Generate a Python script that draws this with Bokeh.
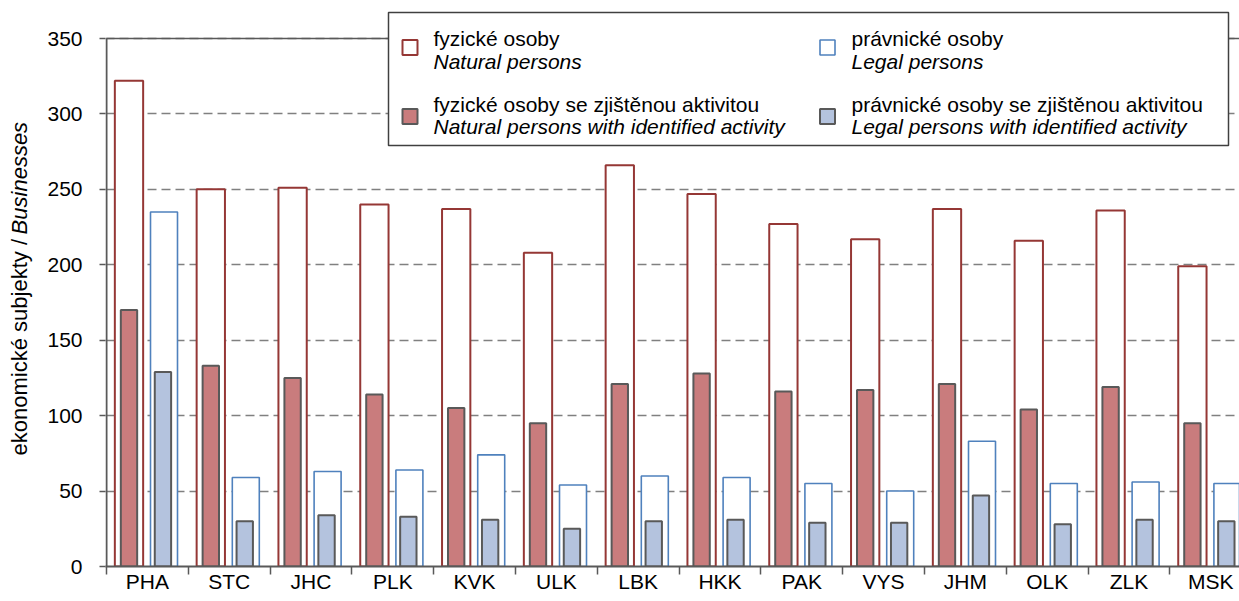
import math
from bokeh.plotting import figure
from bokeh.layouts import row
from bokeh.models import FixedTicker, Range1d, ColumnDataSource
from bokeh.core.properties import value
from bokeh.embed import file_html
from bokeh.resources import INLINE

# ---------------- data ----------------
regions = ["PHA", "STC", "JHC", "PLK", "KVK", "ULK", "LBK", "HKK", "PAK", "VYS", "JHM", "OLK", "ZLK", "MSK"]
natural = [322, 250, 251, 240, 237, 208, 266, 247, 227, 217, 237, 216, 236, 199]
natural_active = [170, 133, 125, 114, 105, 95, 121, 128, 116, 117, 121, 104, 119, 95]
legal = [235, 59, 63, 64, 74, 54, 60, 59, 55, 50, 83, 55, 56, 55]
legal_active = [129, 30, 34, 33, 31, 25, 30, 31, 29, 29, 47, 28, 31, 30]
y_ticks = [0, 50, 100, 150, 200, 250, 300, 350]

leg_natural = ("fyzické osoby", "Natural persons")
leg_legal = ("právnické osoby", "Legal persons")
leg_natural_act = ("fyzické osoby se zjištěnou aktivitou", "Natural persons with identified activity")
leg_legal_act = ("právnické osoby se zjištěnou aktivitou", "Legal persons with identified activity")
y_title = ("ekonomické subjekty /", "Businesses")

# ---------------- layout ----------------
FONT = "Liberation Sans"
PAGE_W, PAGE_H = 1239, 601
SIDE_W = 40
PX_X = 81.8          # pixels per category
X0_PAGE = 106.0      # page x of category boundary 0
Y0_PAGE = 566.0      # page y of value 0
PX_Y = 528.0 / 350.0 # pixels per unit

def xd(px):
    return (px - X0_PAGE) / PX_X

def yd(py):
    return (Y0_PAGE - py) / PX_Y

FRAME_L, FRAME_T, FRAME_B = 105, 10, 566

# side figure holding the rotated y-axis title
side = figure(width=SIDE_W, height=PAGE_H, output_backend="svg", toolbar_location=None,
              x_range=Range1d(0, SIDE_W), y_range=Range1d(0, PAGE_H),
              x_axis_location=None, y_axis_location=None,
              min_border_left=0, min_border_right=0, min_border_top=0, min_border_bottom=0)
side.outline_line_color = None
side.xgrid.visible = False
side.ygrid.visible = False
side.text(x=[19], y=[PAGE_H - 247], text=[y_title[0]], angle=math.pi / 2,
          text_align="right", text_baseline="middle", text_font=value(FONT),
          text_font_size="22px", text_color="black")
side.text(x=[19], y=[PAGE_H - 242], text=[y_title[1]], angle=math.pi / 2,
          text_align="left", text_baseline="middle", text_font=value(FONT),
          text_font_size="22px", text_font_style="italic", text_color="black")

W = PAGE_W - SIDE_W
p = figure(width=W, height=PAGE_H, output_backend="svg", toolbar_location=None,
           x_range=Range1d(xd(FRAME_L), xd(PAGE_W)), y_range=Range1d(0, yd(FRAME_T)),
           min_border_left=FRAME_L - SIDE_W, min_border_right=0,
           min_border_top=FRAME_T, min_border_bottom=PAGE_H - FRAME_B)
p.outline_line_color = None
p.background_fill_color = "white"
p.border_fill_color = "white"
x_end = xd(PAGE_W)

# grid
p.xgrid.visible = False
p.ygrid.ticker = FixedTicker(ticks=y_ticks[1:])
p.ygrid.grid_line_color = "#808080"
p.ygrid.grid_line_width = 1.6
p.ygrid.grid_line_dash = "9 5"

AX = "#595959"
# y axis
p.yaxis.ticker = FixedTicker(ticks=y_ticks)
p.yaxis.axis_line_color = None
p.yaxis.major_tick_out = 6
p.yaxis.major_tick_in = 0
p.yaxis.minor_tick_line_color = None
p.yaxis.major_tick_line_color = AX
p.yaxis.major_tick_line_width = 1.5
p.yaxis.major_label_standoff = 17
p.yaxis.major_label_text_font = FONT
p.yaxis.major_label_text_font_size = "21px"
p.yaxis.major_label_text_color = "#000000"

# x axis
centers = [i + 0.5 for i in range(len(regions))]
p.xaxis.ticker = FixedTicker(ticks=centers, minor_ticks=list(range(len(regions))))
p.xaxis.major_label_overrides = {c: r for c, r in zip(centers, regions)}
p.xaxis.major_tick_out = 0
p.xaxis.major_tick_in = 0
p.xaxis.major_tick_line_color = None
p.xaxis.minor_tick_out = 8
p.xaxis.minor_tick_in = 0
p.xaxis.minor_tick_line_color = AX
p.xaxis.minor_tick_line_width = 1.5
p.xaxis.axis_line_color = AX
p.xaxis.axis_line_width = 2
p.xaxis.major_label_standoff = -5
p.xaxis.major_label_text_font = FONT
p.xaxis.major_label_text_font_size = "21px"
p.xaxis.major_label_text_color = "#000000"

# top line at 350 and y axis line
p.segment(x0=[0], y0=[350], x1=[x_end], y1=[350], line_color=AX, line_width=1.6)
p.segment(x0=[0], y0=[0], x1=[0], y1=[350], line_color=AX, line_width=2)

# bars
idx = list(range(len(regions)))
src = ColumnDataSource(dict(
    xn=[i + 0.275 for i in idx], xl=[i + 0.703 for i in idx], xla=[i + 0.69 for i in idx],
    natural=natural, natural_active=natural_active, legal=legal, legal_active=legal_active))

RED_LINE = "#953735"
BLUE_LINE = "#4F81BD"
RED_FILL = "#C97C7D"
BLUE_FILL = "#B4C3DE"

p.vbar(x="xn", top="natural", bottom=0, width=0.346, source=src,
       fill_color="white", line_color=RED_LINE, line_width=2)
p.vbar(x="xl", top="legal", bottom=0, width=0.33, source=src,
       fill_color="white", line_color=BLUE_LINE, line_width=1.6)
p.vbar(x="xn", top="natural_active", bottom=0, width=0.2, source=src,
       fill_color=RED_FILL, line_color=AX, line_width=2)
p.vbar(x="xla", top="legal_active", bottom=0, width=0.2, source=src,
       fill_color=BLUE_FILL, line_color=AX, line_width=2)

# legend (custom, two-line labels with italic English)
p.quad(left=[xd(388)], right=[xd(1228)], top=[yd(12)], bottom=[yd(145)],
       fill_color="white", line_color="#404040", line_width=1.5)

sw = dict(width=15, height=15, width_units="screen", height_units="screen")
p.rect(x=[xd(409.5)], y=[yd(47)], fill_color="white", line_color=RED_LINE, line_width=2, **sw)
p.rect(x=[xd(827)], y=[yd(47)], fill_color="white", line_color=BLUE_LINE, line_width=1.6, **sw)
p.rect(x=[xd(409.5)], y=[yd(116)], fill_color=RED_FILL, line_color=AX, line_width=2, **sw)
p.rect(x=[xd(827)], y=[yd(116)], fill_color=BLUE_FILL, line_color=AX, line_width=2, **sw)

def leg_text(px, py1, py2, pair):
    p.text(x=[xd(px)], y=[yd(py1)], text=[pair[0]], text_font=value(FONT),
           text_font_size="21px", text_baseline="middle", text_align="left", text_color="black")
    p.text(x=[xd(px)], y=[yd(py2)], text=[pair[1]], text_font=value(FONT),
           text_font_size="21px", text_font_style="italic", text_baseline="middle",
           text_align="left", text_color="black")

leg_text(433, 38, 61, leg_natural)
leg_text(851, 38, 61, leg_legal)
leg_text(433, 104, 126, leg_natural_act)
leg_text(851, 104, 126, leg_legal_act)

layout = row(side, p, spacing=0)
open("out.html", "w").write(file_html(layout, INLINE))
